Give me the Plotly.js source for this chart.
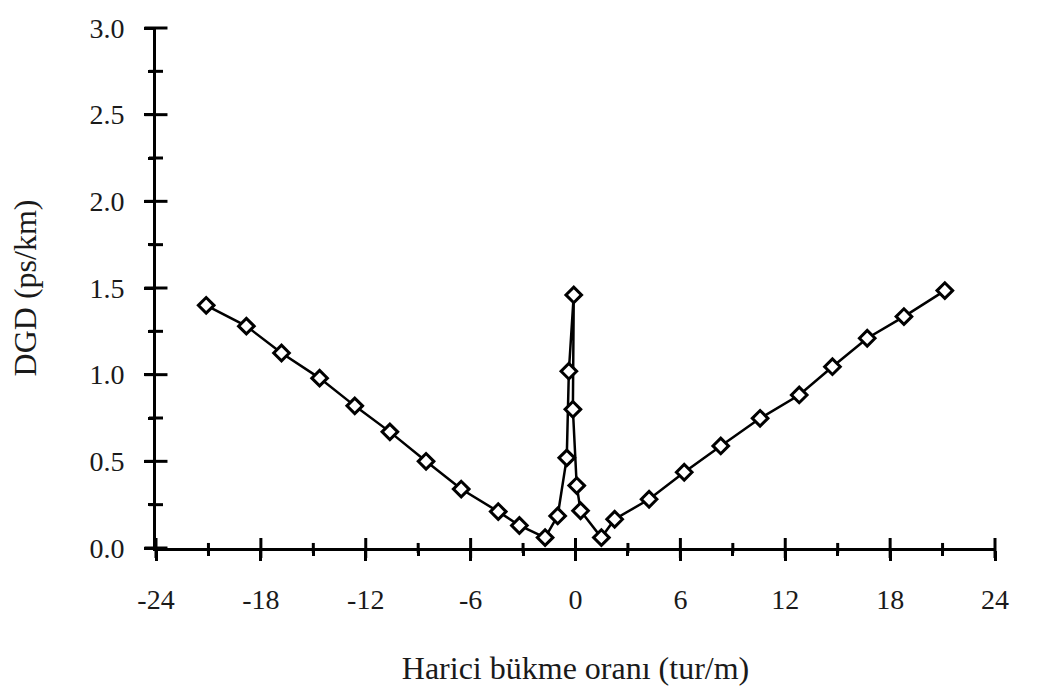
<!DOCTYPE html>
<html>
<head>
<meta charset="utf-8">
<script src="https://cdn.plot.ly/plotly-3.0.1.min.js"></script>
<style>html,body{margin:0;padding:0;background:#fff;}#chart{width:1040px;height:694px;}</style>
</head>
<body>
<div id="chart"></div>
<script>
// Left branch (negative twist rates)
var leftX = [-21.13, -18.83, -16.82, -14.64, -12.63, -10.62, -8.55, -6.54, -4.42, -3.21, -1.74];
var leftY = [1.40, 1.28, 1.125, 0.98, 0.82, 0.67, 0.50, 0.34, 0.21, 0.13, 0.06];
// Central peak (path order)
var peakX = [-1.02, -0.50, -0.38, -0.10, -0.15, 0.07, 0.29];
var peakY = [0.185, 0.52, 1.02, 1.46, 0.80, 0.36, 0.215];
// Right branch (positive twist rates)
var rightX = [1.48, 2.24, 4.21, 6.22, 8.31, 10.56, 12.80, 14.70, 16.69, 18.79, 21.13];
var rightY = [0.06, 0.166, 0.281, 0.437, 0.589, 0.748, 0.883, 1.046, 1.21, 1.335, 1.485];

// Tick labels / positions
var xTickVals = [-24, -18, -12, -6, 0, 6, 12, 18, 24];
var xTickText = ['-24', '-18', '-12', '-6', '0', '6', '12', '18', '24'];
var xMinorVals = [-21, -15, -9, -3, 3, 9, 15, 21];
var yTickVals = [0, 0.5, 1, 1.5, 2, 2.5, 3];
var yTickText = ['0.0', '0.5', '1.0', '1.5', '2.0', '2.5', '3.0'];
var yMinorVals = [0.25, 0.75, 1.25, 1.75, 2.25, 2.75];

var xTitle = 'Harici bükme oranı (tur/m)';
var yTitle = 'DGD (ps/km)';

var xs = leftX.concat(peakX, rightX);
var ys = leftY.concat(peakY, rightY);

var FONT = 'Liberation Serif, Times New Roman, serif';
var TXT = '#1a1a1a';
var X0 = xTickVals[0], Y0 = yTickVals[0];

// crossing tick marks drawn as line markers centred on the axes
function tickTrace(xv, yv, sym, size) {
  return {x: xv, y: yv, type: 'scatter', mode: 'markers', cliponaxis: false, hoverinfo: 'skip',
    marker: {symbol: sym, size: size, color: '#000', line: {color: '#000', width: 3}}};
}
var tickTraces = [
  tickTrace(xTickVals, xTickVals.map(function () { return Y0; }), 'line-ns', 14.3),
  tickTrace(xMinorVals, xMinorVals.map(function () { return Y0; }), 'line-ns', 7.2),
  tickTrace(yTickVals.map(function () { return X0; }), yTickVals, 'line-ew', 16.4),
  tickTrace(yMinorVals.map(function () { return X0; }), yMinorVals, 'line-ew', 10)
];

var traces = tickTraces.concat([
  {
    x: xs, y: ys, type: 'scatter', mode: 'lines+markers',
    line: {color: '#000', width: 2.5},
    marker: {symbol: 'diamond', size: 12, color: '#fff', line: {color: '#000', width: 3}},
    cliponaxis: false, hoverinfo: 'skip'
  }
]);

var layout = {
  width: 1040, height: 694,
  margin: {l: 156, r: 45, t: 28, b: 146},
  paper_bgcolor: '#fff', plot_bgcolor: '#fff',
  showlegend: false,
  font: {family: FONT, color: TXT, size: 28},
  xaxis: {
    range: [-24, 24], tickmode: 'array', tickvals: xTickVals, ticktext: xTickText,
    showgrid: false, zeroline: false,
    showline: true, linecolor: '#000', linewidth: 3,
    ticks: 'outside', ticklen: 10, tickwidth: 3, tickcolor: '#000',
    minor: {tickmode: 'array', tickvals: xMinorVals, ticks: 'outside', ticklen: 5, tickwidth: 3, tickcolor: '#000', showgrid: false},
    tickfont: {family: FONT, size: 28, color: TXT},
    ticklabelstandoff: 14,
    title: {text: xTitle, font: {family: FONT, size: 32, color: TXT}, standoff: 44}
  },
  yaxis: {
    range: [0, 3], tickmode: 'array', tickvals: yTickVals, ticktext: yTickText,
    showgrid: false, zeroline: false,
    showline: true, linecolor: '#000', linewidth: 3,
    ticks: 'outside', ticklen: 9, tickwidth: 3, tickcolor: '#000',
    minor: {tickmode: 'array', tickvals: yMinorVals, ticks: 'outside', ticklen: 5, tickwidth: 3, tickcolor: '#000', showgrid: false},
    tickfont: {family: FONT, size: 28, color: TXT},
    ticklabelstandoff: 14,
    title: {text: yTitle, font: {family: FONT, size: 32, color: TXT}, standoff: 44}
  }
};

Plotly.newPlot('chart', traces, layout, {staticPlot: true, displayModeBar: false});
</script>
</body>
</html>
